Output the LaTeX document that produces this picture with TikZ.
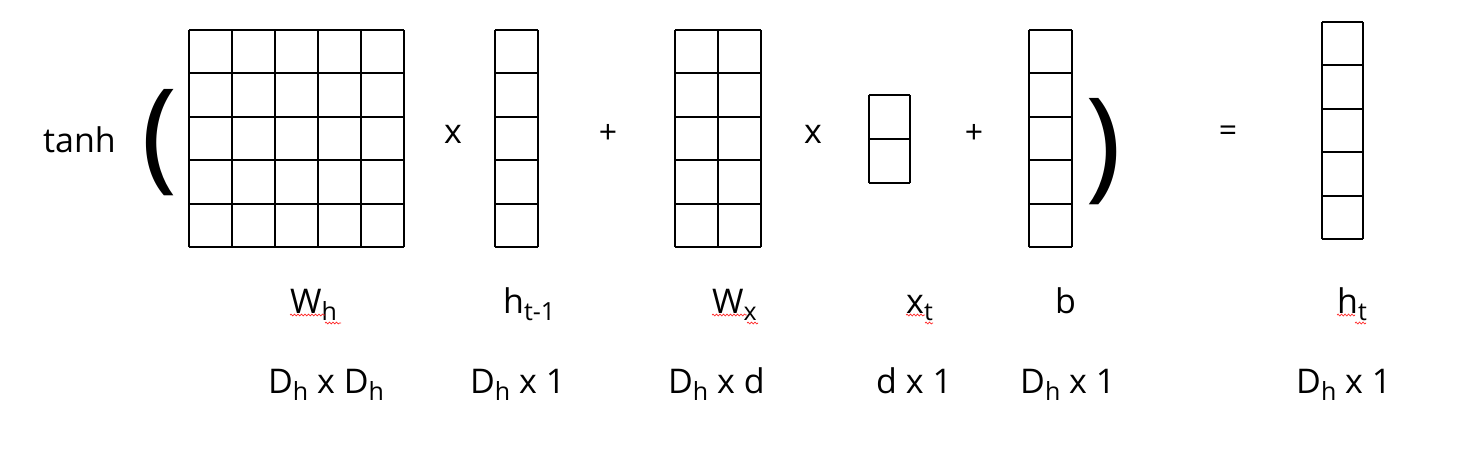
\documentclass[tikz,border=0pt]{standalone}
\usepackage{fontspec}
\setmainfont{Open Sans}
\usetikzlibrary{decorations.pathmorphing, positioning}
\tikzset{cellline/.style={line width=2pt, draw=black}}
\tikzset{lbl/.style={inner sep=0pt, anchor=base west, font=\fontsize{34}{34}\selectfont}}
\tikzset{opr/.style={inner sep=0pt, anchor=base west, font=\fontsize{34}{34}\selectfont}}
\tikzset{smallopr/.style={inner sep=0pt, font=\fontsize{32}{32}\selectfont}}
\tikzset{paren/.style={inner sep=0pt, font=\fontsize{122}{122}\selectfont}}
\tikzset{squig/.style={red!85, line width=0.7pt, decorate, decoration={snake, amplitude=0.9pt, segment length=3.5pt}}}
\newcommand{\lowsub}[1]{\raisebox{-7pt}{\fontsize{25}{25}\selectfont #1}}
% name, left, top, cols, rows, cell width, cell height
\newcommand{\cellblock}[7]{%
  \node[inner sep=0pt, anchor=north west, minimum width=#4*#6pt, minimum height=#5*#7pt] (#1) at (#2,#3) {};
  \draw[cellline, shift={(#2,#3)}] (0,#5*#7) grid[xstep=#6pt, ystep=#7pt] (#4*#6,0);
}

\begin{document}
\begin{tikzpicture}[x=1pt, y=-1pt]
  \useasboundingbox (0,0) rectangle (1466,452);
  % matrices
  \cellblock{Wh}{189}{30}{5}{5}{43}{43.4}
  \cellblock{htm}{495}{30}{1}{5}{43}{43.4}
  \cellblock{Wx}{675}{30}{2}{5}{43}{43.4}
  \cellblock{xt}{869}{95}{1}{2}{41}{44}
  \cellblock{bvec}{1029}{30}{1}{5}{43}{43.4}
  \cellblock{ht}{1322}{22}{1}{5}{41}{43.4}
  % tanh and brackets
  \node[lbl] (tanh) at (43,152) {tanh};
  \node[paren] (lpar) at (160,143) {(};
  \node[paren] (rpar) at (1104,152) {)};
  % operators
  \node[opr] (mul1) at (444,143) {x};
  \node[smallopr] (add1) at (608,134) {+};
  \node[opr] (mul2) at (804,143) {x};
  \node[smallopr] (add2) at (974,134) {+};
  \node[smallopr] (eq) at (1228,134) {=};
  % names
  \node[lbl] (nWh) at (290,313) {W\lowsub{h}};
  \node[lbl] (nhtm) at (503,313) {h\lowsub{t-1}};
  \node[lbl] (nWx) at (712,313) {W\lowsub{x}};
  \node[lbl] (nxt) at (906,313) {x\lowsub{t}};
  \node[lbl] (nb) at (1055,313) {b};
  \node[lbl] (nht) at (1337,313) {h\lowsub{t}};
  \draw[squig] (290,315) -- (325,315);
  \draw[squig] (325,323) -- (341,323);
  \draw[squig] (712,315) -- (747,315);
  \draw[squig] (747,323) -- (758,323);
  \draw[squig] (906,315) -- (925,315);
  \draw[squig] (925,323) -- (933,323);
  \draw[squig] (1337,315) -- (1355,315);
  \draw[squig] (1355,323) -- (1366,323);
  % sizes
  \node[lbl] (sWh) at (268,393) {D\lowsub{h} x D\lowsub{h}};
  \node[lbl] (shtm) at (470,393) {D\lowsub{h} x 1};
  \node[lbl] (sWx) at (668,393) {D\lowsub{h} x d};
  \node[lbl] (sxt) at (876,393) {d x 1};
  \node[lbl] (sb) at (1020,393) {D\lowsub{h} x 1};
  \node[lbl] (sht) at (1296,393) {D\lowsub{h} x 1};
\end{tikzpicture}
\end{document}
